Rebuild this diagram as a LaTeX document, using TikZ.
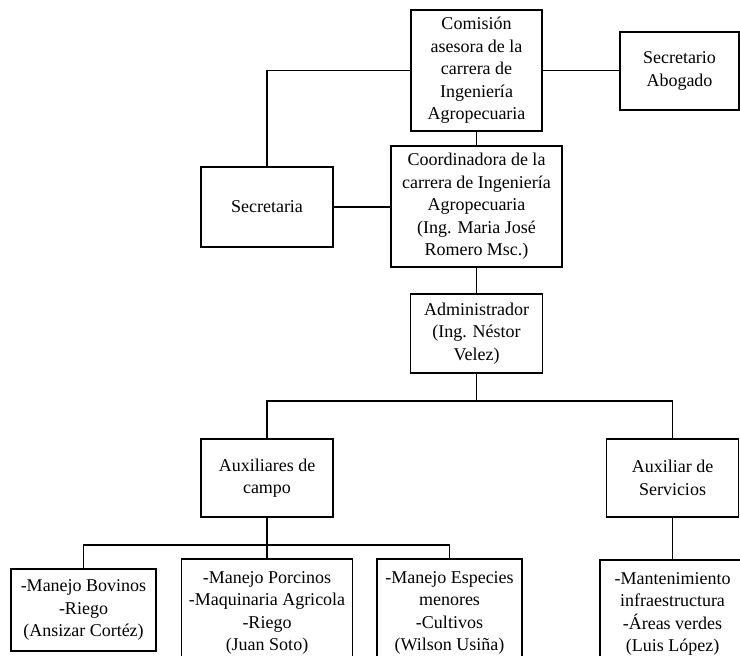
\documentclass[tikz,border=0pt]{standalone}
\usepackage{fontspec}
\setmainfont{Liberation Serif}
\begin{document}
\begin{tikzpicture}[x=1pt,y=1pt,
  orgbox/.style={draw, line width=1.2pt, rectangle, align=center, inner sep=0pt,
    font=\fontsize{18}{22.5}\selectfont},
  link/.style={line width=1.2pt}]
\useasboundingbox (0,0) rectangle (740,-656);
\fill[white] (0,0) rectangle (740,-656);

% upper levels
\node[orgbox, minimum width=131, minimum height=121] (com) at (476.5,-70.5)
  {Comisión\\asesora de la\\carrera de\\Ingeniería\\Agropecuaria};
\node[orgbox, minimum width=119, minimum height=78] (sab) at (679.5,-71)
  {Secretario\\Abogado};
\node[orgbox, minimum width=132, minimum height=80] (sec) at (267,-207)
  {Secretaria};
\node[orgbox, minimum width=171, minimum height=121] (coo) at (476.5,-206.5)
  {Coordinadora de la\\carrera de Ingeniería\\Agropecuaria\\(Ing. Maria José\\Romero Msc.)};
\node[orgbox, minimum width=132, minimum height=79] (adm) at (476.5,-333.5)
  {Administrador\\(Ing. Néstor\\Velez)};

% auxiliaries
\node[orgbox, minimum width=132, minimum height=78] (aux) at (267,-478)
  {Auxiliares de\\campo};
\node[orgbox, minimum width=132, minimum height=78] (srv) at (672.5,-478)
  {Auxiliar de\\Servicios};

% field and service staff
\node[orgbox, minimum width=145, minimum height=82] (bov) at (83.5,-610)
  {-Manejo Bovinos\\-Riego\\(Ansizar Cortéz)};
\node[orgbox, minimum width=171, minimum height=108] (por) at (267,-613)
  {-Manejo Porcinos\\-Maquinaria Agricola\\-Riego\\(Juan Soto)};
\node[orgbox, minimum width=145, minimum height=108] (esp) at (449.5,-613)
  {-Manejo Especies\\menores\\-Cultivos\\(Wilson Usiña)};
\node[orgbox, minimum width=145, minimum height=108] (man) at (672.5,-614)
  {-Mantenimiento\\infraestructura\\-Áreas verdes\\(Luis López)};

% junction points of the branching lines
\coordinate (busA) at (476.5,-401);
\coordinate (busB) at (267,-545);

% connectors
\draw[link] (com.west) -| (sec.north);
\draw[link] (com.east) -- (sab.west |- com.east);
\draw[link] (com.south) -- (coo.north);
\draw[link] (sec.east) -- (coo.west |- sec.east);
\draw[link] (coo.south) -- (adm.north);
\draw[link] (adm.south) -- (busA);
\draw[link] (aux.north) |- (busA) -| (srv.north);
\draw[link] (aux.south) -- (por.north);
\draw[link] (bov.north) |- (busB) -| (esp.north);
\draw[link] (srv.south) -- (man.north);
\end{tikzpicture}
\end{document}
